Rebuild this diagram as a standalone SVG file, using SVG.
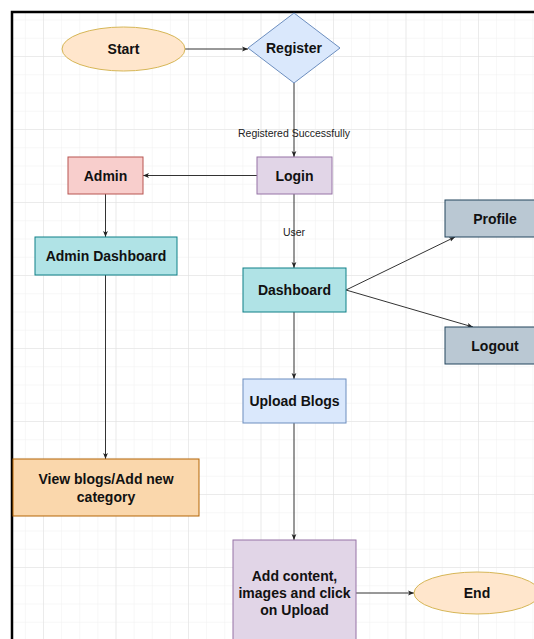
<svg xmlns="http://www.w3.org/2000/svg" width="534" height="639" viewBox="0 0 534 639">
<defs>
<pattern id="minor" x="43" y="56" width="18.125" height="18.25" patternUnits="userSpaceOnUse">
<path d="M0 0H18.125M0 0V18.25" fill="none" stroke="#f0f0f0" stroke-width="1"/>
</pattern>
<pattern id="major" x="43" y="56" width="72.5" height="73" patternUnits="userSpaceOnUse">
<path d="M0 0H72.5M0 0V73" fill="none" stroke="#e0e0e0" stroke-width="1"/>
</pattern>
<marker id="arr" viewBox="0 0 10 10" refX="10" refY="5" markerWidth="6" markerHeight="6" orient="auto" markerUnits="userSpaceOnUse">
<path d="M0 1L10 5L0 9L2.5 5Z" fill="#222"/>
</marker>
</defs>
<style>
.t{font-family:"Liberation Sans",Arial,sans-serif;font-size:14px;font-weight:bold;fill:#111;text-anchor:middle;dominant-baseline:central}
.l{font-family:"Liberation Sans",Arial,sans-serif;font-size:10.5px;fill:#222;text-anchor:middle;dominant-baseline:central}
.c{fill:none;stroke:#333;stroke-width:1;marker-end:url(#arr)}
</style>
<rect width="534" height="639" fill="#fff"/>
<rect x="12" y="12" width="522" height="627" fill="url(#minor)"/>
<rect x="12" y="12" width="522" height="627" fill="url(#major)"/>
<path d="M12 639V12H534" fill="none" stroke="#000" stroke-width="2.5"/>
<g id="connectors">
<path class="c" d="M185 49H248"/>
<path class="c" d="M294 83V157"/>
<path class="c" d="M257 175.5H143"/>
<path class="c" d="M105.5 194V237"/>
<path class="c" d="M294 194V268"/>
<path class="c" d="M105.5 275V459"/>
<path class="c" d="M346 290L455 237"/>
<path class="c" d="M346 290L473 327"/>
<path class="c" d="M294 312V379"/>
<path class="c" d="M294 423V540"/>
<path class="c" d="M356 593H414"/>
<text class="l" x="294" y="133">Registered Successfully</text>
<text class="l" x="294" y="232">User</text>
</g>
<g id="start">
<ellipse cx="123.5" cy="49" rx="61.5" ry="22" fill="#ffe6cc" stroke="#d6b656"/>
<text class="t" x="123.5" y="49">Start</text>
</g>
<g id="register">
<path d="M294 13L340 48L294 83L248 48Z" fill="#dae8fc" stroke="#6c8ebf"/>
<text class="t" x="294" y="48">Register</text>
</g>
<g id="login">
<rect x="257" y="157" width="75" height="37" fill="#e1d5e7" stroke="#9673a6"/>
<text class="t" x="294.5" y="175.5">Login</text>
</g>
<g id="admin">
<rect x="68" y="157" width="75" height="37" fill="#f8cecc" stroke="#b85450"/>
<text class="t" x="105.5" y="175.5">Admin</text>
</g>
<g id="admin-dashboard">
<rect x="35" y="237" width="142" height="38" fill="#b0e3e6" stroke="#0e8088"/>
<text class="t" x="106" y="256">Admin Dashboard</text>
</g>
<g id="dashboard">
<rect x="243" y="268" width="103" height="44" fill="#b0e3e6" stroke="#0e8088"/>
<text class="t" x="294.5" y="290">Dashboard</text>
</g>
<g id="profile">
<rect x="445" y="200" width="100" height="37" fill="#bac8d3" stroke="#23445d"/>
<text class="t" x="495" y="218.5">Profile</text>
</g>
<g id="logout">
<rect x="445" y="327" width="100" height="37" fill="#bac8d3" stroke="#23445d"/>
<text class="t" x="495" y="345.5">Logout</text>
</g>
<g id="upload-blogs">
<rect x="243" y="379" width="103" height="44" fill="#dae8fc" stroke="#6c8ebf"/>
<text class="t" x="294.5" y="401">Upload Blogs</text>
</g>
<g id="view-blogs">
<rect x="13" y="459" width="186" height="57" fill="#fad7ac" stroke="#b46504"/>
<text class="t" x="106" y="479">View blogs/Add new</text>
<text class="t" x="106" y="497">category</text>
</g>
<g id="add-content">
<rect x="233" y="540" width="123" height="106" fill="#e1d5e7" stroke="#9673a6"/>
<text class="t" x="294.5" y="576">Add content,</text>
<text class="t" x="294.5" y="593">images and click</text>
<text class="t" x="294.5" y="610">on Upload</text>
</g>
<g id="end">
<ellipse cx="477" cy="593" rx="63" ry="21" fill="#ffe6cc" stroke="#d6b656"/>
<text class="t" x="477" y="593">End</text>
</g>
</svg>
